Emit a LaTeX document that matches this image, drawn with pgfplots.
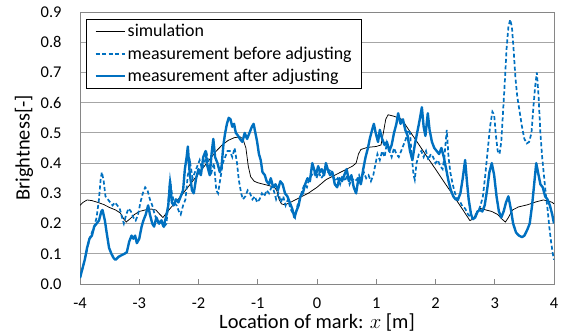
\documentclass[border=0pt]{standalone}
\usepackage{fontspec}
\setmainfont{Carlito}
\usepackage{pgfplots}
\pgfplotsset{compat=1.18}
\usetikzlibrary{calc}
\definecolor{xblue}{HTML}{0070C0}
\definecolor{gridgray}{HTML}{A6A6A6}
\definecolor{axgray}{HTML}{868686}
\pgfplotstableread{
x y
-4.00 0.26
-3.95 0.27
-3.88 0.278
-3.80 0.276
-3.70 0.27
-3.60 0.263
-3.50 0.253
-3.40 0.245
-3.32 0.235
-3.26 0.215
-3.22 0.205
-3.16 0.215
-3.08 0.23
-3.00 0.24
-2.90 0.245
-2.80 0.248
-2.72 0.245
-2.66 0.232
-2.60 0.22
-2.50 0.245
-2.40 0.268
-2.30 0.29
-2.20 0.315
-2.10 0.34
-2.00 0.365
-1.90 0.39
-1.80 0.415
-1.70 0.44
-1.60 0.46
-1.50 0.475
-1.40 0.484
-1.30 0.487
-1.25 0.48
-1.20 0.45
-1.16 0.39
-1.12 0.355
-1.06 0.34
-1.00 0.335
-0.90 0.33
-0.80 0.325
-0.72 0.32
-0.68 0.31
-0.64 0.28
-0.60 0.265
-0.54 0.262
-0.45 0.27
-0.30 0.285
-0.15 0.30
0.00 0.32
0.15 0.345
0.30 0.36
0.45 0.375
0.60 0.39
0.66 0.40
0.70 0.43
0.74 0.445
0.85 0.452
1.00 0.455
1.08 0.46
1.12 0.50
1.16 0.545
1.20 0.56
1.30 0.555
1.43 0.545
1.55 0.51
1.70 0.467
1.85 0.423
2.00 0.38
2.15 0.336
2.30 0.293
2.45 0.249
2.58 0.21
2.64 0.215
2.70 0.24
2.76 0.25
2.85 0.245
2.95 0.24
3.05 0.23
3.12 0.215
3.18 0.205
3.23 0.22
3.30 0.245
3.40 0.255
3.55 0.262
3.70 0.272
3.82 0.278
3.90 0.275
3.97 0.27
4.00 0.265
}\sim
\pgfplotstableread{
x y
-4.00 0.02
-3.92 0.08
-3.84 0.15
-3.76 0.19
-3.72 0.22
-3.68 0.28
-3.65 0.35
-3.63 0.37
-3.60 0.34
-3.57 0.29
-3.53 0.28
-3.49 0.27
-3.45 0.26
-3.41 0.27
-3.37 0.26
-3.33 0.25
-3.29 0.22
-3.26 0.20
-3.22 0.23
-3.18 0.25
-3.14 0.24
-3.10 0.22
-3.06 0.21
-3.02 0.23
-2.98 0.27
-2.94 0.30
-2.90 0.32
-2.86 0.31
-2.82 0.28
-2.78 0.26
-2.74 0.23
-2.70 0.21
-2.66 0.20
-2.62 0.21
-2.58 0.19
-2.54 0.20
-2.51 0.27
-2.48 0.345
-2.45 0.30
-2.41 0.27
-2.37 0.26
-2.33 0.24
-2.30 0.23
-2.26 0.26
-2.22 0.28
-2.18 0.36
-2.14 0.40
-2.10 0.35
-2.06 0.37
-2.02 0.39
-1.98 0.41
-1.94 0.38
-1.90 0.40
-1.86 0.43
-1.82 0.39
-1.78 0.37
-1.74 0.40
-1.70 0.31
-1.67 0.30
-1.63 0.35
-1.59 0.40
-1.55 0.42
-1.51 0.44
-1.47 0.44
-1.43 0.42
-1.39 0.45
-1.35 0.40
-1.32 0.345
-1.28 0.30
-1.25 0.28
-1.21 0.29
-1.17 0.31
-1.13 0.30
-1.09 0.28
-1.05 0.29
-1.01 0.27
-0.97 0.28
-0.93 0.30
-0.89 0.29
-0.85 0.31
-0.81 0.30
-0.77 0.32
-0.73 0.31
-0.69 0.28
-0.65 0.30
-0.61 0.27
-0.57 0.29
-0.53 0.26
-0.49 0.28
-0.45 0.25
-0.41 0.235
-0.37 0.22
-0.33 0.26
-0.29 0.28
-0.25 0.31
-0.21 0.33
-0.17 0.32
-0.13 0.35
-0.09 0.36
-0.05 0.37
-0.01 0.35
0.03 0.37
0.07 0.35
0.11 0.36
0.15 0.38
0.19 0.37
0.23 0.38
0.27 0.36
0.31 0.34
0.35 0.35
0.39 0.33
0.43 0.36
0.47 0.34
0.51 0.36
0.55 0.33
0.59 0.35
0.63 0.34
0.67 0.345
0.71 0.36
0.75 0.34
0.79 0.37
0.83 0.35
0.87 0.36
0.91 0.34
0.95 0.36
0.99 0.40
1.02 0.43
1.06 0.41
1.10 0.44
1.14 0.42
1.18 0.467
1.22 0.44
1.26 0.42
1.30 0.45
1.34 0.43
1.38 0.42
1.42 0.44
1.46 0.46
1.50 0.48
1.54 0.51
1.57 0.50
1.60 0.42
1.63 0.36
1.65 0.345
1.68 0.40
1.72 0.43
1.76 0.44
1.80 0.42
1.84 0.44
1.88 0.41
1.92 0.43
1.96 0.42
2.00 0.40
2.04 0.41
2.08 0.39
2.12 0.38
2.15 0.42
2.19 0.51
2.22 0.42
2.25 0.37
2.29 0.33
2.33 0.30
2.37 0.28
2.42 0.27
2.46 0.255
2.50 0.25
2.55 0.23
2.60 0.22
2.64 0.215
2.68 0.23
2.72 0.24
2.76 0.26
2.80 0.29
2.84 0.36
2.88 0.44
2.92 0.52
2.96 0.57
2.99 0.56
3.02 0.49
3.05 0.44
3.08 0.43
3.11 0.47
3.14 0.57
3.17 0.67
3.20 0.78
3.23 0.85
3.26 0.875
3.29 0.85
3.32 0.77
3.35 0.68
3.38 0.62
3.42 0.57
3.46 0.52
3.50 0.48
3.54 0.465
3.58 0.47
3.62 0.50
3.65 0.58
3.68 0.65
3.71 0.70
3.74 0.62
3.77 0.50
3.80 0.42
3.83 0.36
3.86 0.30
3.89 0.25
3.92 0.19
3.95 0.14
3.98 0.10
4.00 0.08
}\before
\pgfplotstableread{
x y
-4.00 0.02
-3.96 0.05
-3.92 0.08
-3.88 0.12
-3.84 0.15
-3.80 0.16
-3.76 0.19
-3.72 0.20
-3.68 0.21
-3.64 0.24
-3.62 0.245
-3.58 0.21
-3.55 0.17
-3.51 0.12
-3.47 0.10
-3.43 0.085
-3.40 0.08
-3.35 0.09
-3.30 0.095
-3.25 0.10
-3.21 0.105
-3.17 0.14
-3.13 0.16
-3.10 0.15
-3.07 0.16
-3.04 0.135
-3.00 0.15
-2.96 0.19
-2.93 0.21
-2.89 0.23
-2.85 0.26
-2.82 0.23
-2.78 0.20
-2.75 0.19
-2.71 0.22
-2.67 0.20
-2.63 0.21
-2.59 0.19
-2.55 0.22
-2.51 0.26
-2.48 0.34
-2.45 0.27
-2.42 0.26
-2.38 0.28
-2.34 0.27
-2.30 0.29
-2.26 0.31
-2.23 0.38
-2.20 0.42
-2.18 0.455
-2.15 0.37
-2.11 0.31
-2.08 0.30
-2.04 0.35
-2.00 0.38
-1.96 0.36
-1.92 0.42
-1.88 0.44
-1.85 0.39
-1.81 0.36
-1.78 0.43
-1.75 0.48
-1.72 0.42
-1.68 0.40
-1.64 0.37
-1.61 0.39
-1.58 0.46
-1.55 0.50
-1.52 0.53
-1.49 0.55
-1.46 0.545
-1.43 0.52
-1.40 0.53
-1.37 0.50
-1.33 0.49
-1.30 0.48
-1.26 0.47
-1.22 0.50
-1.18 0.48
-1.14 0.50
-1.10 0.52
-1.07 0.53
-1.04 0.50
-1.01 0.47
-0.98 0.43
-0.95 0.41
-0.92 0.37
-0.88 0.36
-0.85 0.34
-0.81 0.33
-0.78 0.35
-0.74 0.32
-0.70 0.33
-0.66 0.31
-0.62 0.34
-0.58 0.33
-0.54 0.30
-0.50 0.29
-0.46 0.27
-0.42 0.25
-0.38 0.22
-0.35 0.24
-0.31 0.26
-0.28 0.29
-0.24 0.30
-0.20 0.33
-0.16 0.35
-0.12 0.34
-0.08 0.40
-0.05 0.38
-0.02 0.36
0.02 0.39
0.05 0.37
0.08 0.38
0.12 0.36
0.15 0.40
0.18 0.38
0.22 0.36
0.26 0.37
0.30 0.33
0.34 0.32
0.38 0.35
0.42 0.34
0.46 0.36
0.50 0.38
0.54 0.34
0.58 0.36
0.62 0.32
0.66 0.30
0.70 0.35
0.74 0.33
0.78 0.38
0.82 0.42
0.86 0.45
0.89 0.48
0.93 0.51
0.96 0.53
0.99 0.50
1.03 0.47
1.06 0.51
1.10 0.48
1.14 0.46
1.18 0.47
1.22 0.44
1.26 0.46
1.30 0.50
1.34 0.53
1.37 0.565
1.41 0.53
1.45 0.545
1.49 0.51
1.53 0.49
1.57 0.44
1.61 0.41
1.65 0.46
1.69 0.50
1.73 0.54
1.77 0.585
1.80 0.52
1.83 0.49
1.87 0.565
1.90 0.51
1.94 0.47
1.98 0.45
2.02 0.44
2.06 0.43
2.10 0.45
2.14 0.42
2.18 0.38
2.22 0.34
2.26 0.31
2.30 0.29
2.34 0.28
2.38 0.28
2.42 0.30
2.46 0.35
2.50 0.41
2.53 0.34
2.56 0.28
2.60 0.23
2.63 0.215
2.67 0.22
2.71 0.24
2.75 0.245
2.79 0.24
2.83 0.26
2.87 0.31
2.91 0.37
2.95 0.40
2.99 0.36
3.03 0.29
3.07 0.24
3.11 0.22
3.15 0.24
3.19 0.27
3.23 0.29
3.27 0.25
3.31 0.20
3.36 0.17
3.41 0.16
3.46 0.155
3.50 0.16
3.55 0.18
3.59 0.20
3.63 0.26
3.67 0.34
3.70 0.40
3.73 0.37
3.77 0.33
3.81 0.32
3.85 0.29
3.89 0.28
3.93 0.26
3.97 0.23
4.00 0.20
}\after
\begin{document}
\begin{tikzpicture}
\begin{axis}[
  scale only axis, width=474bp, height=272bp,
  xmin=-4, xmax=4, ymin=0, ymax=0.9,
  xtick={-4,-3,-2,-1,0,1,2,3,4},
  ytick={0,0.1,0.2,0.3,0.4,0.5,0.6,0.7,0.8,0.9},
  yticklabel style={/pgf/number format/fixed,/pgf/number format/fixed zerofill,/pgf/number format/precision=1},
  /pgf/number format/assume math mode=true,
  tick label style={font=\fontsize{16.5}{19}\selectfont, text=black},
  xticklabel style={yshift=-10bp},
  yticklabel style={xshift=-15bp},
  ymajorgrids, major grid style={gridgray, line width=0.9bp},
  axis line style={axgray, line width=0.9bp},
  x tick style={axgray, line width=0.9bp}, xtick pos=bottom, xtick align=inside,
  major tick length=5bp,
  y tick style={draw=none},
  xlabel={Location of mark: $x$ [m]},
  ylabel={Brightness[-]},
  every axis x label/.style={at={(rel axis cs:0.5,0)}, anchor=center, yshift=-39bp, font=\fontsize{20.5}{23}\selectfont},
  every axis y label/.style={at={(rel axis cs:0,0.5)}, anchor=center, rotate=90, yshift=56bp, font=\fontsize{20.5}{23}\selectfont},
  legend style={at={(rel axis cs:0,1)}, anchor=north west, xshift=6bp, yshift=-7bp,
    draw=black, line width=0.7bp, fill=white, font=\fontsize{18}{21}\selectfont,
    inner xsep=8bp, inner ysep=3bp, row sep=4.5bp, cells={anchor=west}},
  legend image code/.code={\draw[#1] (4bp,0bp) -- (33bp,0bp);},
  clip=true,
]
\addplot[black, line width=0.75bp] table {\sim};
\addlegendentry{simulation}
\addplot[xblue, line width=1.7bp, dash pattern=on 4bp off 2.5bp] table {\before};
\addlegendentry{measurement before adjusting}
\addplot[xblue, line width=2.4bp, line join=round] table {\after};
\addlegendentry{measurement after adjusting}
\coordinate (sw) at (rel axis cs:0,0);
\coordinate (ne) at (rel axis cs:1,1);
\end{axis}
\pgfresetboundingbox
\path ($(sw)+(-80bp,-51bp)$) rectangle ($(ne)+(7bp,12bp)$);
\end{tikzpicture}
\end{document}
